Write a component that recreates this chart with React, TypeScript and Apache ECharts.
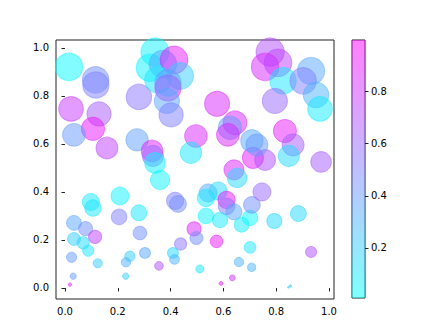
import React, { useEffect, useRef } from "react";
import * as echarts from "echarts";

const xValues = [
  0.015, 0.116, 0.117, 0.023, 0.129, 0.106, 0.034, 0.159, 0.273, 0.28,
  0.341, 0.322, 0.371, 0.413, 0.436, 0.352, 0.39, 0.39, 0.386, 0.402,
  0.33, 0.333, 0.341, 0.36, 0.496, 0.477, 0.576, 0.644, 0.625, 0.617,
  0.64, 0.652, 0.712, 0.758, 0.708, 0.727, 0.777, 0.758, 0.807, 0.826,
  0.932, 0.902, 0.951, 0.966, 0.795, 0.833, 0.864, 0.848, 0.97, 0.417,
  0.428, 0.542, 0.534, 0.58, 0.612, 0.612, 0.64, 0.534, 0.587, 0.669,
  0.701, 0.708, 0.746, 0.489, 0.498, 0.574, 0.438, 0.409, 0.415, 0.356,
  0.511, 0.659, 0.634, 0.591, 0.701, 0.707, 0.793, 0.884, 0.932, 0.854,
  0.846, 0.098, 0.106, 0.208, 0.205, 0.28, 0.284, 0.034, 0.078, 0.114,
  0.034, 0.069, 0.088, 0.025, 0.124, 0.246, 0.231, 0.303, 0.031, 0.23,
  0.019,
];

const yValues = [
  0.921, 0.867, 0.846, 0.746, 0.725, 0.663, 0.638, 0.583, 0.617, 0.796,
  0.983, 0.917, 0.933, 0.95, 0.883, 0.867, 0.833, 0.854, 0.779, 0.721,
  0.571, 0.55, 0.521, 0.45, 0.633, 0.563, 0.767, 0.688, 0.667, 0.638,
  0.492, 0.458, 0.542, 0.533, 0.613, 0.596, 0.983, 0.921, 0.938, 0.863,
  0.904, 0.863, 0.804, 0.746, 0.779, 0.654, 0.596, 0.55, 0.525, 0.363,
  0.35, 0.396, 0.375, 0.404, 0.367, 0.34, 0.317, 0.3, 0.283, 0.263,
  0.292, 0.346, 0.4, 0.246, 0.208, 0.194, 0.183, 0.146, 0.119, 0.092,
  0.079, 0.108, 0.042, 0.019, 0.169, 0.086, 0.279, 0.31, 0.15, 0.008,
  0.003, 0.358, 0.333, 0.383, 0.296, 0.313, 0.229, 0.271, 0.247, 0.213,
  0.204, 0.188, 0.155, 0.128, 0.103, 0.132, 0.107, 0.146, 0.049, 0.049,
  0.014,
];

const colorValues = [
  0.03, 0.45, 0.5, 0.78, 0.65, 0.92, 0.4, 0.75, 0.38, 0.55,
  0.05, 0.05, 0.35, 0.9, 0.2, 0.1, 0.85, 0.4, 0.35, 0.5,
  0.85, 0.6, 0.05, 0.05, 0.85, 0.1, 0.85, 0.85, 0.4, 0.85,
  0.85, 0.15, 0.9, 0.7, 0.35, 0.4, 0.7, 0.85, 0.75, 0.1,
  0.35, 0.5, 0.3, 0.08, 0.6, 0.9, 0.65, 0.15, 0.65, 0.5,
  0.45, 0.35, 0.08, 0.15, 0.9, 0.55, 0.35, 0.05, 0.08, 0.08,
  0.02, 0.45, 0.6, 0.85, 0.45, 0.9, 0.55, 0.15, 0.3, 0.7,
  0.1, 0.3, 0.8, 0.9, 0.1, 0.3, 0.15, 0.15, 0.7, 0.2,
  0.2, 0.1, 0.1, 0.05, 0.5, 0.1, 0.45, 0.35, 0.45, 0.75,
  0.2, 0.15, 0.1, 0.4, 0.2, 0.2, 0.3, 0.35, 0.4, 0.2,
  0.9,
];

const axisTicks = [0, 0.2, 0.4, 0.6, 0.8, 1.0];
const colorbarTicks = [0.2, 0.4, 0.6, 0.8];
const colorMin = 0.008;
const colorMax = 0.998;

const FONT = "DejaVu Sans";

// matplotlib "cool" colormap: r = t, g = 1 - t, b = 1
function coolColor(v: number): string {
  const t = Math.min(1, Math.max(0, (v - colorMin) / (colorMax - colorMin)));
  const r = Math.round(255 * t);
  const g = Math.round(255 * (1 - t));
  return `rgb(${r},${g},255)`;
}

export default function App() {
  const ref = useRef<HTMLDivElement>(null);

  useEffect(() => {
    if (!ref.current) return;
    const chart = echarts.init(ref.current, null, { renderer: "svg" });
    const points = xValues.map((x, i) => {
      const col = coolColor(colorValues[i]);
      return {
        value: [x, yValues[i], colorValues[i]],
        itemStyle: { color: col, borderColor: col },
      };
    });

    const labelStyle = { fontFamily: FONT, fontSize: 10, color: "#000" };

    chart.setOption({
      animation: false,
      backgroundColor: "#fff",
      grid: [
        {
          left: 56,
          top: 40,
          width: 278,
          height: 259,
          show: true,
          borderColor: "#222",
          borderWidth: 1,
          backgroundColor: "transparent",
        },
        {
          left: 352,
          top: 40,
          width: 13,
          height: 258,
          show: true,
          borderColor: "#222",
          borderWidth: 1,
          backgroundColor: "transparent",
        },
      ],
      xAxis: [
        {
          type: "value",
          gridIndex: 0,
          min: -0.034,
          max: 1.019,
          axisLine: { show: false },
          splitLine: { show: false },
          axisTick: {
            show: true,
            customValues: axisTicks,
            length: 3.5,
            lineStyle: { color: "#222" },
          },
          axisLabel: {
            customValues: axisTicks,
            formatter: (v: number) => v.toFixed(1),
            margin: 7,
            ...labelStyle,
          },
        },
        {
          type: "category",
          gridIndex: 1,
          data: ["c"],
          show: false,
        },
      ],
      yAxis: [
        {
          type: "value",
          gridIndex: 0,
          min: -0.046,
          max: 1.033,
          axisLine: { show: false },
          splitLine: { show: false },
          axisTick: {
            show: true,
            customValues: axisTicks,
            length: 3.5,
            lineStyle: { color: "#222" },
          },
          axisLabel: {
            customValues: axisTicks,
            formatter: (v: number) => v.toFixed(1),
            margin: 7,
            ...labelStyle,
          },
        },
        {
          type: "value",
          gridIndex: 1,
          position: "right",
          min: colorMin,
          max: colorMax,
          axisLine: { show: false },
          splitLine: { show: false },
          axisTick: {
            show: true,
            customValues: colorbarTicks,
            length: 3.5,
            lineStyle: { color: "#222" },
          },
          axisLabel: {
            customValues: colorbarTicks,
            formatter: (v: number) => v.toFixed(1),
            margin: 6,
            ...labelStyle,
          },
        },
      ],
      series: [
        {
          type: "scatter",
          xAxisIndex: 0,
          yAxisIndex: 0,
          data: points,
          symbolSize: (val: number[]) => 28.5 * Math.sqrt(Math.max(val[1], 0)),
          itemStyle: { opacity: 0.5, borderWidth: 1 },
          silent: true,
          emphasis: { disabled: true },
        },
        {
          type: "bar",
          xAxisIndex: 1,
          yAxisIndex: 1,
          data: [colorMax],
          barWidth: "100%",
          silent: true,
          itemStyle: {
            opacity: 0.5,
            color: new echarts.graphic.LinearGradient(0, 0, 0, 1, [
              { offset: 0, color: "#ff00ff" },
              { offset: 1, color: "#00ffff" },
            ]),
          },
        },
      ],
    });

    return () => chart.dispose();
  }, []);

  return (
    <div
      ref={ref}
      style={{ position: "fixed", left: 0, top: 0, width: 448, height: 336 }}
    />
  );
}
